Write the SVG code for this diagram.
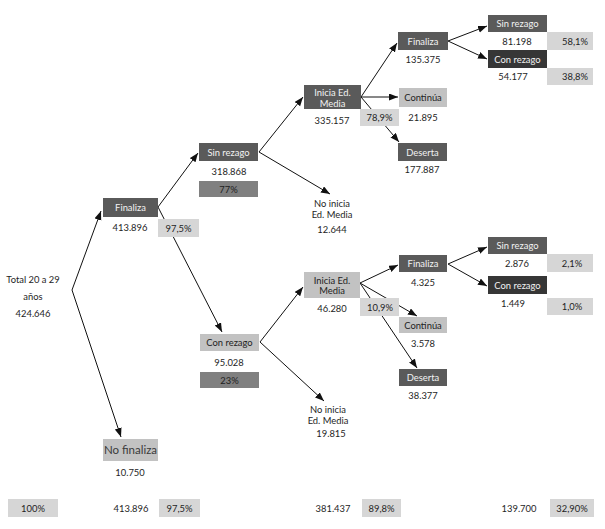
<svg xmlns="http://www.w3.org/2000/svg" width="605" height="529" viewBox="0 0 605 529">
<style>
text{font-family:Lato,"Open Sans","Liberation Sans",sans-serif;font-size:9.4px;fill:#1e1e1e;text-anchor:middle}
.w{fill:#f2f2f2}
.dk{fill:#5a5a5a}
.dd{fill:#363636}
.lt{fill:#c2c2c2}
.pc{fill:#d6d6d6}
.md{fill:#808080}
.big{font-size:11.5px;fill:#3a3a3a}
.r{text-anchor:end}
line{stroke:#111;stroke-width:1}
</style>
<defs>
<marker id="ah" markerUnits="userSpaceOnUse" markerWidth="10" markerHeight="8" refX="9" refY="3.5" orient="auto"><path d="M0,0 L9,3.5 L0,7 z" fill="#111"/></marker>
</defs>
<rect width="605" height="529" fill="#fff"/>
<g id="connectors">
<line x1="72" y1="290" x2="101" y2="211" marker-end="url(#ah)"/>
<line x1="72" y1="290" x2="121" y2="437" marker-end="url(#ah)"/>
<line x1="158" y1="207" x2="198" y2="153" marker-end="url(#ah)"/>
<line x1="158" y1="207" x2="222" y2="332" marker-end="url(#ah)"/>
<line x1="259" y1="152" x2="303" y2="97" marker-end="url(#ah)"/>
<line x1="259" y1="152" x2="330" y2="194" marker-end="url(#ah)"/>
<line x1="260" y1="342" x2="303" y2="287" marker-end="url(#ah)"/>
<line x1="260" y1="342" x2="324" y2="401" marker-end="url(#ah)"/>
<line x1="361" y1="97" x2="397" y2="43" marker-end="url(#ah)"/>
<line x1="361" y1="97" x2="398" y2="97" marker-end="url(#ah)"/>
<line x1="361" y1="97" x2="399" y2="142" marker-end="url(#ah)"/>
<line x1="448" y1="41" x2="487" y2="26" marker-end="url(#ah)"/>
<line x1="448" y1="41" x2="487" y2="59" marker-end="url(#ah)"/>
<line x1="360" y1="283" x2="398" y2="265" marker-end="url(#ah)"/>
<line x1="360" y1="283" x2="417" y2="316" marker-end="url(#ah)"/>
<line x1="360" y1="283" x2="417" y2="368" marker-end="url(#ah)"/>
<line x1="448" y1="264" x2="487" y2="247" marker-end="url(#ah)"/>
<line x1="448" y1="264" x2="487" y2="286" marker-end="url(#ah)"/>
</g>
<g id="total">
<text x="33" y="283">Total 20 a 29</text>
<text x="33" y="300">años</text>
<text x="33" y="317">424.646</text>
</g>
<g id="finaliza1">
<rect class="dk" x="103" y="198" width="55" height="19"/>
<text class="w" x="130.5" y="211">Finaliza</text>
<text x="130" y="231">413.896</text>
<rect class="pc" x="158" y="219" width="41" height="18"/>
<text x="178.5" y="231.5">97,5%</text>
</g>
<g id="nofinaliza">
<rect class="lt" x="103" y="439" width="55" height="22"/>
<text class="big" x="130.5" y="454">No finaliza</text>
<text x="130" y="476">10.750</text>
</g>
<g id="sinrezago1">
<rect class="dk" x="199" y="143" width="59" height="18"/>
<text class="w" x="228.5" y="155.5">Sin rezago</text>
<text x="229" y="175">318.868</text>
<rect class="md" x="199" y="181" width="59" height="16"/>
<text x="228.5" y="192.5">77%</text>
</g>
<g id="conrezago1">
<rect class="lt" x="200" y="334" width="59" height="17"/>
<text x="229.5" y="345.5">Con rezago</text>
<text x="229" y="366">95.028</text>
<rect class="md" x="200" y="372" width="59" height="16"/>
<text x="229.5" y="383.5">23%</text>
</g>
<g id="inicia1">
<rect class="dk" x="304" y="85" width="57" height="24"/>
<text class="w" x="332.5" y="95.5">Inicia Ed.</text>
<text class="w" x="332.5" y="106.5">Media</text>
<text x="332" y="124">335.157</text>
<rect class="pc" x="360" y="109" width="39" height="17"/>
<text x="379.5" y="121">78,9%</text>
</g>
<g id="noinicia1">
<text x="332" y="206.5">No inicia</text>
<text x="332" y="217.5">Ed. Media</text>
<text x="332" y="232.5">12.644</text>
</g>
<g id="finaliza2">
<rect class="dk" x="398" y="32" width="50" height="18"/>
<text class="w" x="423" y="44.5">Finaliza</text>
<text x="423" y="63">135.375</text>
</g>
<g id="continua1">
<rect class="lt" x="399" y="88" width="48" height="19"/>
<text x="423" y="101">Continúa</text>
<text x="423" y="121">21.895</text>
</g>
<g id="deserta1">
<rect class="dk" x="398" y="143" width="49" height="18"/>
<text class="w" x="422.5" y="155.5">Deserta</text>
<text x="422" y="173">177.887</text>
</g>
<g id="sinrezago2">
<rect class="dk" x="488" y="15" width="59" height="17"/>
<text class="w" x="517.5" y="27">Sin rezago</text>
<text x="517" y="45">81.198</text>
<rect class="pc" x="547" y="32" width="46" height="18"/>
<text class="r" x="588" y="44.5">58,1%</text>
</g>
<g id="conrezago2">
<rect class="dd" x="488" y="50" width="59" height="18"/>
<text class="w" x="517.5" y="62.5">Con rezago</text>
<text x="513" y="80">54.177</text>
<rect class="pc" x="547" y="68" width="46" height="17"/>
<text class="r" x="588" y="80">38,8%</text>
</g>
<g id="inicia2">
<rect class="lt" x="304" y="272" width="56" height="26"/>
<text x="332" y="283.5">Inicia Ed.</text>
<text x="332" y="294">Media</text>
<text x="332" y="312">46.280</text>
<rect class="pc" x="360" y="298" width="39" height="18"/>
<text x="380" y="310.5">10,9%</text>
</g>
<g id="noinicia2">
<text x="328" y="412.5">No  inicia</text>
<text x="328" y="423.5">Ed. Media</text>
<text x="331" y="436.5">19.815</text>
</g>
<g id="finaliza3">
<rect class="dk" x="399" y="255" width="48" height="17"/>
<text class="w" x="423" y="267">Finaliza</text>
<text x="423" y="286">4.325</text>
</g>
<g id="continua2">
<rect class="lt" x="399" y="317" width="48" height="16"/>
<text x="423" y="328.5">Continúa</text>
<text x="423" y="347">3.578</text>
</g>
<g id="deserta2">
<rect class="dk" x="399" y="369" width="48" height="17"/>
<text class="w" x="423" y="381">Deserta</text>
<text x="423" y="399">38.377</text>
</g>
<g id="sinrezago3">
<rect class="dk" x="488" y="237" width="59" height="17"/>
<text class="w" x="517.5" y="249">Sin rezago</text>
<text x="517" y="267">2.876</text>
<rect class="pc" x="547" y="254" width="46" height="18"/>
<text x="572" y="266.5">2,1%</text>
</g>
<g id="conrezago3">
<rect class="dd" x="488" y="276" width="59" height="18"/>
<text class="w" x="517.5" y="288.5">Con rezago</text>
<text x="513" y="307">1.449</text>
<rect class="pc" x="547" y="298" width="46" height="17"/>
<text x="572" y="310">1,0%</text>
</g>
<g id="totals">
<rect class="pc" x="8" y="499" width="50" height="18"/>
<text x="33" y="511.5">100%</text>
<text x="131" y="511.5">413.896</text>
<rect class="pc" x="159" y="499" width="41" height="18"/>
<text x="179.5" y="511.5">97,5%</text>
<text x="333" y="511.5">381.437</text>
<rect class="pc" x="362" y="499" width="39" height="18"/>
<text x="381.5" y="511.5">89,8%</text>
<text x="519" y="511.5">139.700</text>
<rect class="pc" x="550" y="499" width="44" height="18"/>
<text x="572" y="511.5">32,90%</text>
</g>
</svg>
